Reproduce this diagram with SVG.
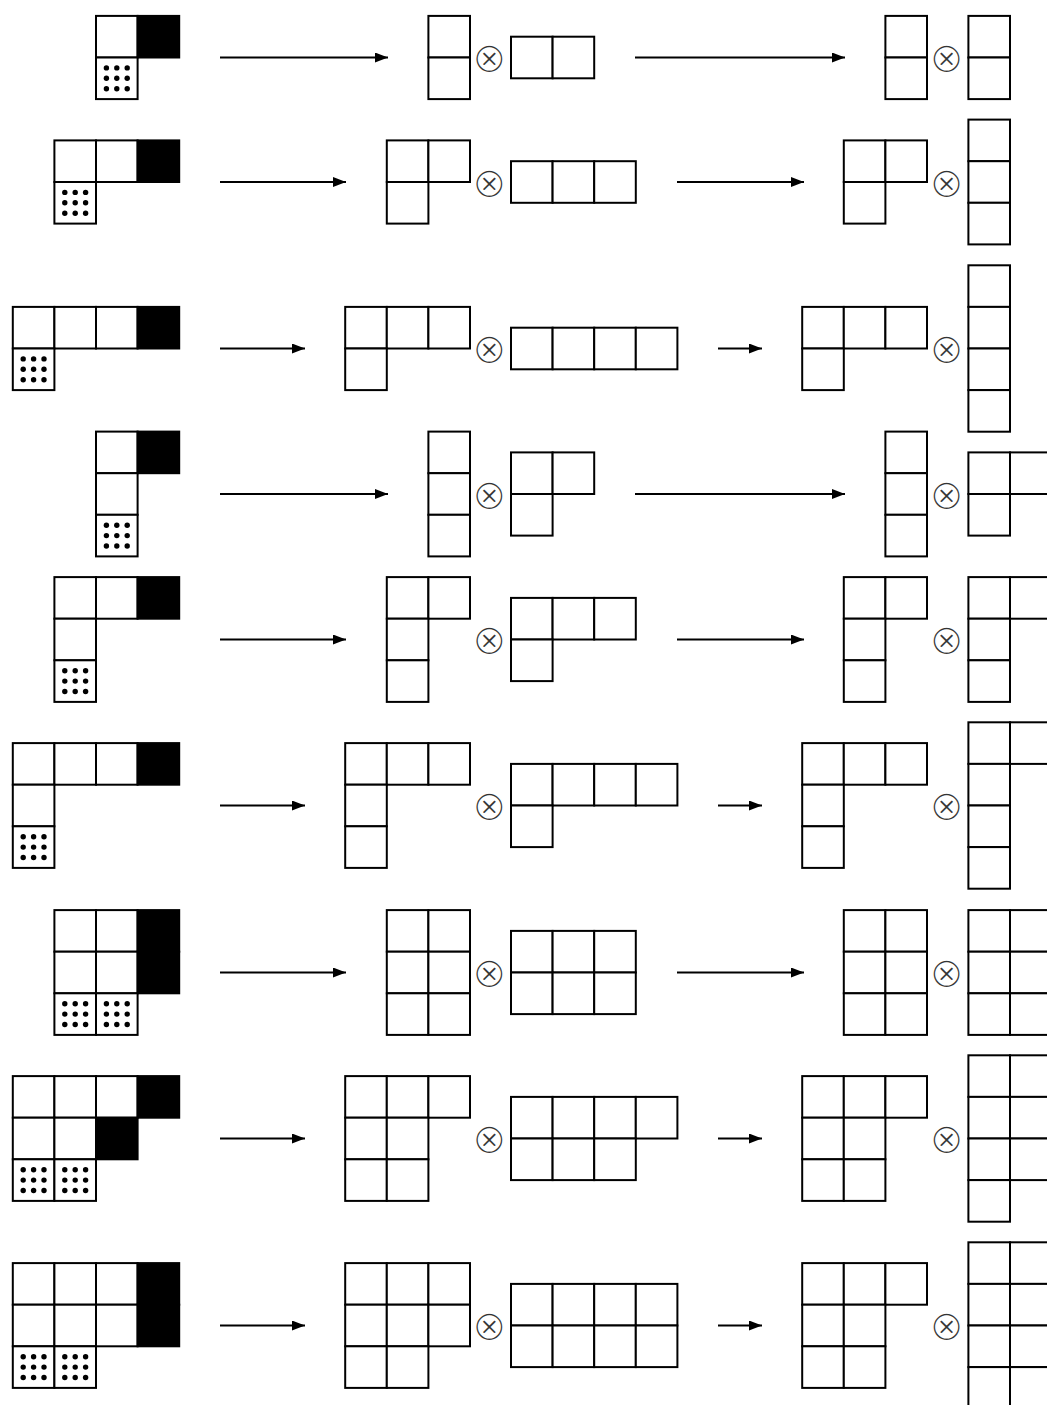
<svg xmlns="http://www.w3.org/2000/svg" width="1047" height="1405" viewBox="0 0 1047 1405">
<style>
.c{fill:#fff;stroke:#000;stroke-width:2}
.b{fill:#000;stroke:#000;stroke-width:2}
.d{fill:#000}
.ar{stroke:#000;stroke-width:1.8;fill:none;marker-end:url(#ah)}
.ot{font-family:"DejaVu Sans",sans-serif;font-size:42px;fill:#333;stroke:#fff;stroke-width:1.6;text-anchor:middle;dominant-baseline:central}
</style>
<defs>
<marker id="ah" markerUnits="userSpaceOnUse" markerWidth="15" markerHeight="12" refX="13" refY="5" orient="auto"><path d="M0,0 L13,5 L0,10 z" fill="#000"/></marker>
<rect id="w" class="c" width="41.6" height="41.6"/>
<rect id="k" class="b" width="41.6" height="41.6"/>
<g id="t"><rect class="c" width="41.6" height="41.6"/>
<circle class="d" cx="10.4" cy="10.4" r="2.7"/><circle class="d" cx="20.8" cy="10.4" r="2.7"/><circle class="d" cx="31.2" cy="10.4" r="2.7"/>
<circle class="d" cx="10.4" cy="20.8" r="2.7"/><circle class="d" cx="20.8" cy="20.8" r="2.7"/><circle class="d" cx="31.2" cy="20.8" r="2.7"/>
<circle class="d" cx="10.4" cy="31.2" r="2.7"/><circle class="d" cx="20.8" cy="31.2" r="2.7"/><circle class="d" cx="31.2" cy="31.2" r="2.7"/></g>
</defs>

<g id="connectors">
<line class="ar" x1="220" y1="57.5" x2="388" y2="57.5"/><line class="ar" x1="635" y1="57.5" x2="845" y2="57.5"/>
<line class="ar" x1="220" y1="182" x2="346" y2="182"/><line class="ar" x1="677" y1="182" x2="804" y2="182"/>
<line class="ar" x1="220" y1="348.5" x2="305" y2="348.5"/><line class="ar" x1="718" y1="348.5" x2="762" y2="348.5"/>
<line class="ar" x1="220" y1="494" x2="388" y2="494"/><line class="ar" x1="635" y1="494" x2="845" y2="494"/>
<line class="ar" x1="220" y1="639.5" x2="346" y2="639.5"/><line class="ar" x1="677" y1="639.5" x2="804" y2="639.5"/>
<line class="ar" x1="220" y1="805.5" x2="305" y2="805.5"/><line class="ar" x1="718" y1="805.5" x2="762" y2="805.5"/>
<line class="ar" x1="220" y1="972.5" x2="346" y2="972.5"/><line class="ar" x1="677" y1="972.5" x2="804" y2="972.5"/>
<line class="ar" x1="220" y1="1138.5" x2="305" y2="1138.5"/><line class="ar" x1="718" y1="1138.5" x2="762" y2="1138.5"/>
<line class="ar" x1="220" y1="1325.5" x2="305" y2="1325.5"/><line class="ar" x1="718" y1="1325.5" x2="762" y2="1325.5"/>
</g>

<g id="otimes">
<text class="ot" x="489.3" y="57.5">⊗</text><text class="ot" x="946.7" y="57.5">⊗</text>
<text class="ot" x="489.3" y="182">⊗</text><text class="ot" x="946.7" y="182">⊗</text>
<text class="ot" x="489.3" y="348.5">⊗</text><text class="ot" x="946.7" y="348.5">⊗</text>
<text class="ot" x="489.3" y="494">⊗</text><text class="ot" x="946.7" y="494">⊗</text>
<text class="ot" x="489.3" y="639.5">⊗</text><text class="ot" x="946.7" y="639.5">⊗</text>
<text class="ot" x="489.3" y="805.5">⊗</text><text class="ot" x="946.7" y="805.5">⊗</text>
<text class="ot" x="489.3" y="972.5">⊗</text><text class="ot" x="946.7" y="972.5">⊗</text>
<text class="ot" x="489.3" y="1138.5">⊗</text><text class="ot" x="946.7" y="1138.5">⊗</text>
<text class="ot" x="489.3" y="1325.5">⊗</text><text class="ot" x="946.7" y="1325.5">⊗</text>
</g>

<!-- Row 1 -->
<g id="r1-l" transform="translate(96,15.9)"><use href="#w"/><use href="#k" x="41.6"/><use href="#t" y="41.6"/></g>
<g id="r1-m1" transform="translate(428.4,15.9)"><use href="#w"/><use href="#w" y="41.6"/></g>
<g id="r1-m2" transform="translate(511,36.7)"><use href="#w"/><use href="#w" x="41.6"/></g>
<g id="r1-r1" transform="translate(885.4,15.9)"><use href="#w"/><use href="#w" y="41.6"/></g>
<g id="r1-r2" transform="translate(968.4,15.9)"><use href="#w"/><use href="#w" y="41.6"/></g>

<!-- Row 2 -->
<g id="r2-l" transform="translate(54.4,140.4)"><use href="#w"/><use href="#w" x="41.6"/><use href="#k" x="83.2"/><use href="#t" y="41.6"/></g>
<g id="r2-m1" transform="translate(386.8,140.4)"><use href="#w"/><use href="#w" x="41.6"/><use href="#w" y="41.6"/></g>
<g id="r2-m2" transform="translate(511,161.2)"><use href="#w"/><use href="#w" x="41.6"/><use href="#w" x="83.2"/></g>
<g id="r2-r1" transform="translate(843.8,140.4)"><use href="#w"/><use href="#w" x="41.6"/><use href="#w" y="41.6"/></g>
<g id="r2-r2" transform="translate(968.4,119.6)"><use href="#w"/><use href="#w" y="41.6"/><use href="#w" y="83.2"/></g>

<!-- Row 3 -->
<g id="r3-l" transform="translate(12.8,306.9)"><use href="#w"/><use href="#w" x="41.6"/><use href="#w" x="83.2"/><use href="#k" x="124.8"/><use href="#t" y="41.6"/></g>
<g id="r3-m1" transform="translate(345.2,306.9)"><use href="#w"/><use href="#w" x="41.6"/><use href="#w" x="83.2"/><use href="#w" y="41.6"/></g>
<g id="r3-m2" transform="translate(511,327.7)"><use href="#w"/><use href="#w" x="41.6"/><use href="#w" x="83.2"/><use href="#w" x="124.8"/></g>
<g id="r3-r1" transform="translate(802.2,306.9)"><use href="#w"/><use href="#w" x="41.6"/><use href="#w" x="83.2"/><use href="#w" y="41.6"/></g>
<g id="r3-r2" transform="translate(968.4,265.3)"><use href="#w"/><use href="#w" y="41.6"/><use href="#w" y="83.2"/><use href="#w" y="124.8"/></g>

<!-- Row 4 -->
<g id="r4-l" transform="translate(96,431.6)"><use href="#w"/><use href="#k" x="41.6"/><use href="#w" y="41.6"/><use href="#t" y="83.2"/></g>
<g id="r4-m1" transform="translate(428.4,431.6)"><use href="#w"/><use href="#w" y="41.6"/><use href="#w" y="83.2"/></g>
<g id="r4-m2" transform="translate(511,452.4)"><use href="#w"/><use href="#w" x="41.6"/><use href="#w" y="41.6"/></g>
<g id="r4-r1" transform="translate(885.4,431.6)"><use href="#w"/><use href="#w" y="41.6"/><use href="#w" y="83.2"/></g>
<g id="r4-r2" transform="translate(968.4,452.4)"><use href="#w"/><use href="#w" x="41.6"/><use href="#w" y="41.6"/></g>

<!-- Row 5 -->
<g id="r5-l" transform="translate(54.4,577.1)"><use href="#w"/><use href="#w" x="41.6"/><use href="#k" x="83.2"/><use href="#w" y="41.6"/><use href="#t" y="83.2"/></g>
<g id="r5-m1" transform="translate(386.8,577.1)"><use href="#w"/><use href="#w" x="41.6"/><use href="#w" y="41.6"/><use href="#w" y="83.2"/></g>
<g id="r5-m2" transform="translate(511,597.9)"><use href="#w"/><use href="#w" x="41.6"/><use href="#w" x="83.2"/><use href="#w" y="41.6"/></g>
<g id="r5-r1" transform="translate(843.8,577.1)"><use href="#w"/><use href="#w" x="41.6"/><use href="#w" y="41.6"/><use href="#w" y="83.2"/></g>
<g id="r5-r2" transform="translate(968.4,577.1)"><use href="#w"/><use href="#w" x="41.6"/><use href="#w" y="41.6"/><use href="#w" y="83.2"/></g>

<!-- Row 6 -->
<g id="r6-l" transform="translate(12.8,743.1)"><use href="#w"/><use href="#w" x="41.6"/><use href="#w" x="83.2"/><use href="#k" x="124.8"/><use href="#w" y="41.6"/><use href="#t" y="83.2"/></g>
<g id="r6-m1" transform="translate(345.2,743.1)"><use href="#w"/><use href="#w" x="41.6"/><use href="#w" x="83.2"/><use href="#w" y="41.6"/><use href="#w" y="83.2"/></g>
<g id="r6-m2" transform="translate(511,763.9)"><use href="#w"/><use href="#w" x="41.6"/><use href="#w" x="83.2"/><use href="#w" x="124.8"/><use href="#w" y="41.6"/></g>
<g id="r6-r1" transform="translate(802.2,743.1)"><use href="#w"/><use href="#w" x="41.6"/><use href="#w" x="83.2"/><use href="#w" y="41.6"/><use href="#w" y="83.2"/></g>
<g id="r6-r2" transform="translate(968.4,722.3)"><use href="#w"/><use href="#w" x="41.6"/><use href="#w" y="41.6"/><use href="#w" y="83.2"/><use href="#w" y="124.8"/></g>

<!-- Row 7 -->
<g id="r7-l" transform="translate(54.4,910.1)"><use href="#w"/><use href="#w" x="41.6"/><use href="#k" x="83.2"/><use href="#w" y="41.6"/><use href="#w" x="41.6" y="41.6"/><use href="#k" x="83.2" y="41.6"/><use href="#t" y="83.2"/><use href="#t" x="41.6" y="83.2"/></g>
<g id="r7-m1" transform="translate(386.8,910.1)"><use href="#w"/><use href="#w" x="41.6"/><use href="#w" y="41.6"/><use href="#w" x="41.6" y="41.6"/><use href="#w" y="83.2"/><use href="#w" x="41.6" y="83.2"/></g>
<g id="r7-m2" transform="translate(511,930.9)"><use href="#w"/><use href="#w" x="41.6"/><use href="#w" x="83.2"/><use href="#w" y="41.6"/><use href="#w" x="41.6" y="41.6"/><use href="#w" x="83.2" y="41.6"/></g>
<g id="r7-r1" transform="translate(843.8,910.1)"><use href="#w"/><use href="#w" x="41.6"/><use href="#w" y="41.6"/><use href="#w" x="41.6" y="41.6"/><use href="#w" y="83.2"/><use href="#w" x="41.6" y="83.2"/></g>
<g id="r7-r2" transform="translate(968.4,910.1)"><use href="#w"/><use href="#w" x="41.6"/><use href="#w" y="41.6"/><use href="#w" x="41.6" y="41.6"/><use href="#w" y="83.2"/><use href="#w" x="41.6" y="83.2"/></g>

<!-- Row 8 -->
<g id="r8-l" transform="translate(12.8,1076.1)"><use href="#w"/><use href="#w" x="41.6"/><use href="#w" x="83.2"/><use href="#k" x="124.8"/><use href="#w" y="41.6"/><use href="#w" x="41.6" y="41.6"/><use href="#k" x="83.2" y="41.6"/><use href="#t" y="83.2"/><use href="#t" x="41.6" y="83.2"/></g>
<g id="r8-m1" transform="translate(345.2,1076.1)"><use href="#w"/><use href="#w" x="41.6"/><use href="#w" x="83.2"/><use href="#w" y="41.6"/><use href="#w" x="41.6" y="41.6"/><use href="#w" y="83.2"/><use href="#w" x="41.6" y="83.2"/></g>
<g id="r8-m2" transform="translate(511,1096.9)"><use href="#w"/><use href="#w" x="41.6"/><use href="#w" x="83.2"/><use href="#w" x="124.8"/><use href="#w" y="41.6"/><use href="#w" x="41.6" y="41.6"/><use href="#w" x="83.2" y="41.6"/></g>
<g id="r8-r1" transform="translate(802.2,1076.1)"><use href="#w"/><use href="#w" x="41.6"/><use href="#w" x="83.2"/><use href="#w" y="41.6"/><use href="#w" x="41.6" y="41.6"/><use href="#w" y="83.2"/><use href="#w" x="41.6" y="83.2"/></g>
<g id="r8-r2" transform="translate(968.4,1055.3)"><use href="#w"/><use href="#w" x="41.6"/><use href="#w" y="41.6"/><use href="#w" x="41.6" y="41.6"/><use href="#w" y="83.2"/><use href="#w" x="41.6" y="83.2"/><use href="#w" y="124.8"/></g>

<!-- Row 9 -->
<g id="r9-l" transform="translate(12.8,1263.1)"><use href="#w"/><use href="#w" x="41.6"/><use href="#w" x="83.2"/><use href="#k" x="124.8"/><use href="#w" y="41.6"/><use href="#w" x="41.6" y="41.6"/><use href="#w" x="83.2" y="41.6"/><use href="#k" x="124.8" y="41.6"/><use href="#t" y="83.2"/><use href="#t" x="41.6" y="83.2"/></g>
<g id="r9-m1" transform="translate(345.2,1263.1)"><use href="#w"/><use href="#w" x="41.6"/><use href="#w" x="83.2"/><use href="#w" y="41.6"/><use href="#w" x="41.6" y="41.6"/><use href="#w" x="83.2" y="41.6"/><use href="#w" y="83.2"/><use href="#w" x="41.6" y="83.2"/></g>
<g id="r9-m2" transform="translate(511,1283.9)"><use href="#w"/><use href="#w" x="41.6"/><use href="#w" x="83.2"/><use href="#w" x="124.8"/><use href="#w" y="41.6"/><use href="#w" x="41.6" y="41.6"/><use href="#w" x="83.2" y="41.6"/><use href="#w" x="124.8" y="41.6"/></g>
<g id="r9-r1" transform="translate(802.2,1263.1)"><use href="#w"/><use href="#w" x="41.6"/><use href="#w" x="83.2"/><use href="#w" y="41.6"/><use href="#w" x="41.6" y="41.6"/><use href="#w" y="83.2"/><use href="#w" x="41.6" y="83.2"/></g>
<g id="r9-r2" transform="translate(968.4,1242.3)"><use href="#w"/><use href="#w" x="41.6"/><use href="#w" y="41.6"/><use href="#w" x="41.6" y="41.6"/><use href="#w" y="83.2"/><use href="#w" x="41.6" y="83.2"/><use href="#w" y="124.8"/><use href="#w" x="41.6" y="124.8"/></g>
</svg>
